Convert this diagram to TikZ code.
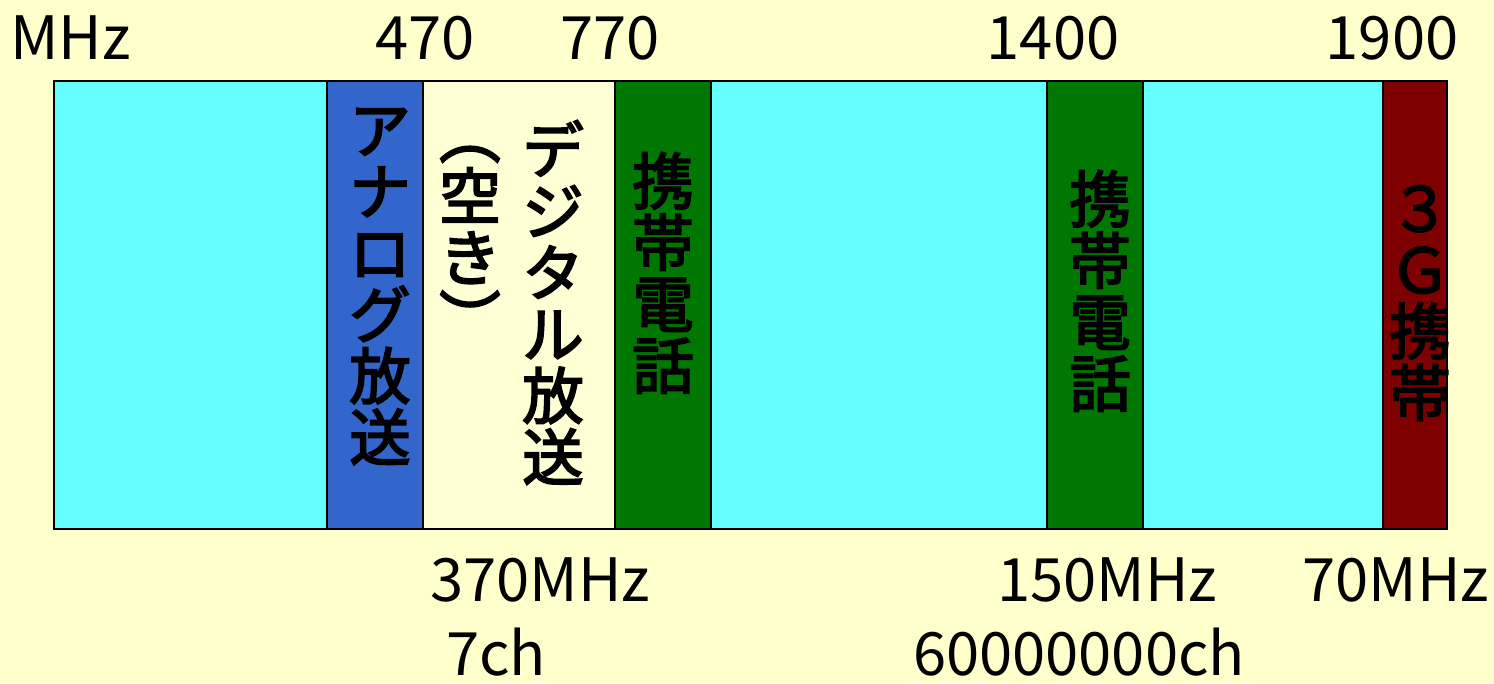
\documentclass[tikz,border=0pt]{standalone}
\usepackage{fontspec}
\setmainfont{Noto Sans CJK JP}
\newfontfamily\bandfont{Noto Sans CJK JP}[FakeBold=3]
\usepackage{tikz}

\definecolor{bgyellow}{HTML}{FFFFCC}
\definecolor{bandcyan}{HTML}{66FFFF}
\definecolor{bandblue}{HTML}{3366CC}
\definecolor{bandcream}{HTML}{FFFFD6}
\definecolor{bandgreen}{HTML}{007700}
\definecolor{bandred}{HTML}{7F0000}

\tikzset{
  band/.style={draw=black, line width=1.2pt},
  freq/.style={font=\fontsize{34}{34}\selectfont, inner sep=0pt},
  vlabel/.style={font=\bandfont\fontsize{35}{35}\selectfont, align=center, inner sep=0pt}
}

\begin{document}
\begin{tikzpicture}[x=0.02cm, y=-0.02cm]
    \fill[bgyellow] (0,0) rectangle (1494,683);
    % bands
    \filldraw[band, fill=bandcyan]  (54,81)   rectangle (327,529);
    \filldraw[band, fill=bandblue]  (327,81)  rectangle (423,529);
    \filldraw[band, fill=bandcream] (423,81)  rectangle (615,529);
    \filldraw[band, fill=bandgreen] (615,81)  rectangle (711,529);
    \filldraw[band, fill=bandcyan]  (711,81)  rectangle (1047,529);
    \filldraw[band, fill=bandgreen] (1047,81) rectangle (1143,529);
    \filldraw[band, fill=bandcyan]  (1143,81) rectangle (1383,529);
    \filldraw[band, fill=bandred]   (1383,81) rectangle (1447,529);
    % frequencies
    \node[freq, anchor=west] (unit) at (10,38) {MHz};
    \node[freq] (f470) at (425,38) {470};
    \node[freq] (f770) at (610,38) {770};
    \node[freq] (f1400) at (1053,38) {1400};
    \node[freq] (f1900) at (1392,38) {1900};
    % widths
    \node[freq] (w370) at (540,580) {370MHz};
    \node[freq] (ch7) at (496,652) {7ch};
    \node[freq] (w150) at (1107,580) {150MHz};
    \node[freq] (chmany) at (1079,652) {60000000ch};
    \node[freq] (w70) at (1396,580) {70MHz};
    % band names
    \node[vlabel, anchor=north] (analog) at (380,108) {ア\\ナ\\ロ\\グ\\放\\送};
    \node[vlabel, anchor=north] (vacant) at (470,146) {︵\\空\\き\\︶};
    \node[vlabel, anchor=north] (digital) at (553,120) {デ\\ジ\\タ\\ル\\放\\送};
    \node[vlabel, anchor=north] (mobileA) at (663,152) {携\\帯\\電\\話};
    \node[vlabel, anchor=north] (mobileB) at (1100,170) {携\\帯\\電\\話};
    \node[vlabel, anchor=north] (mobile3g) at (1420,185) {３\\Ｇ\\携\\帯};
\end{tikzpicture}
\end{document}
